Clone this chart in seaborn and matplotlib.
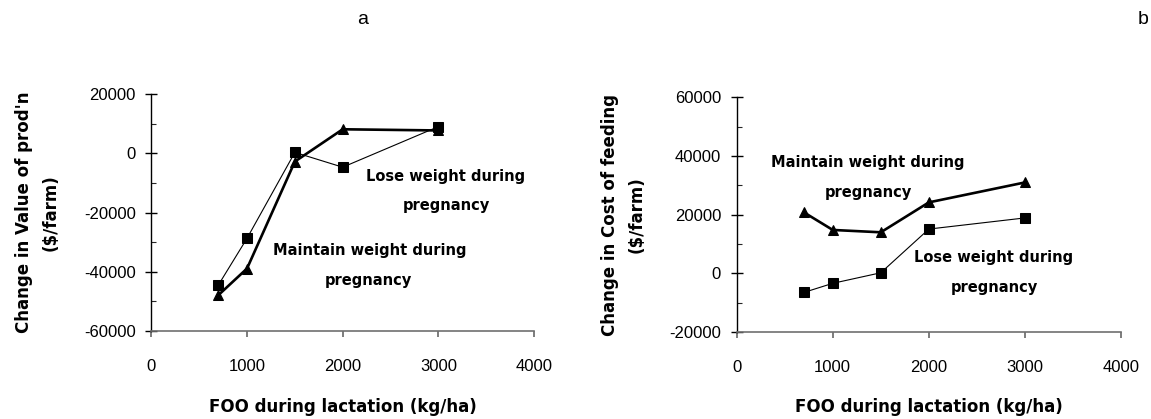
import pandas as pd
import matplotlib
matplotlib.use("Agg")
import matplotlib.pyplot as plt
import seaborn as sns
from matplotlib.ticker import MultipleLocator

# --- data ---
foo = [700, 1000, 1500, 2000, 3000]

# panel a: change in value of production ($/farm)
value_lose = [-44500, -28700, 300, -4700, 9000]
value_maintain = [-47900, -38900, -2800, 8100, 7700]

# panel b: change in cost of feeding ($/farm)
cost_lose = [-6500, -3400, 200, 15100, 18900]
cost_maintain = [20800, 14800, 14000, 24200, 31000]

series_names = ["Lose weight during\npregnancy", "Maintain weight during\npregnancy"]
panel_titles = ["a", "b"]
ylabels = ["Change in Value of prod'n\n($/farm)", "Change in Cost of feeding\n($/farm)"]
xlabel = "FOO during lactation (kg/ha)"


def make_frame(lose, maintain):
    df = pd.DataFrame({
        "foo": foo * 2,
        "value": lose + maintain,
        "scenario": [series_names[0]] * len(foo) + [series_names[1]] * len(foo),
    })
    return df


sns.set_style("ticks")
plt.rcParams["font.family"] = ["Liberation Sans", "DejaVu Sans"]
plt.rcParams["axes.unicode_minus"] = False
plt.rcParams["text.color"] = "black"
plt.rcParams["axes.labelcolor"] = "black"
plt.rcParams["xtick.labelcolor"] = "black"
plt.rcParams["ytick.labelcolor"] = "black"

fig = plt.figure(figsize=(11.51, 4.19), dpi=100)
ax_a = fig.add_axes([0.1315, 0.210, 0.3325, 0.5656])
ax_b = fig.add_axes([0.640, 0.2076, 0.334, 0.560])

bold = dict(family="DejaVu Sans", fontweight="bold", fontsize=12)
note = dict(family="DejaVu Sans", fontweight="bold", fontsize=10.5, ha="center", va="center")

panels = [
    (ax_a, make_frame(value_lose, value_maintain), (-60000, 20000), -0.24,
     [(3070, -7900, "Lose weight during"), (3080, -17700, "pregnancy"),
      (2280, -32900, "Maintain weight during"), (2270, -42800, "pregnancy")]),
    (ax_b, make_frame(cost_lose, cost_maintain), (-20000, 60000), -0.237,
     [(1367, 37800, "Maintain weight during"), (1371, 27600, "pregnancy"),
      (2678, 5300, "Lose weight during"), (2682, -4900, "pregnancy")]),
]

for i, (ax, df, ylim, ylab_x, notes) in enumerate(panels):
    sns.lineplot(data=df, x="foo", y="value", hue="scenario", style="scenario",
                 size="scenario", sizes={series_names[0]: 0.8, series_names[1]: 1.9},
                 markers={series_names[0]: "s", series_names[1]: "^"},
                 dashes=False, palette=["black", "black"], markersize=7.5,
                 markeredgecolor="black", legend=False, ax=ax)
    ax.set_xlim(0, 4000)
    ax.set_ylim(*ylim)
    ax.xaxis.set_major_locator(MultipleLocator(1000))
    ax.yaxis.set_major_locator(MultipleLocator(20000))
    ax.yaxis.set_minor_locator(MultipleLocator(10000))
    ax.tick_params(axis="y", which="major", direction="inout", length=8.5, width=1,
                   pad=7, labelsize=12, color="black")
    ax.tick_params(axis="y", which="minor", direction="in", length=3.3, width=0.8)
    ax.tick_params(axis="x", which="major", direction="out", length=4, width=1.2,
                   pad=16, labelsize=12, color="#666666")
    for side in ("top", "right"):
        ax.spines[side].set_visible(False)
    ax.spines["left"].set_color("black")
    ax.spines["left"].set_linewidth(1)
    ax.spines["bottom"].set_color("#707070")
    ax.spines["bottom"].set_linewidth(1.2)

    ax.set_ylabel(ylabels[i], **bold, linespacing=1.6)
    ax.yaxis.set_label_coords(ylab_x, 0.5)
    ax.set_xlabel(xlabel, **bold)
    ax.xaxis.set_label_coords(0.5, -0.283)

    for x, y, txt in notes:
        ax.text(x, y, txt, **note)

fig.text(363 / 1151, 1 - 20 / 419, panel_titles[0], fontsize=14, ha="center", va="center")
fig.text(1143 / 1151, 1 - 20 / 419, panel_titles[1], fontsize=14, ha="center", va="center")

fig.savefig("out.png", dpi=100, facecolor="white")
